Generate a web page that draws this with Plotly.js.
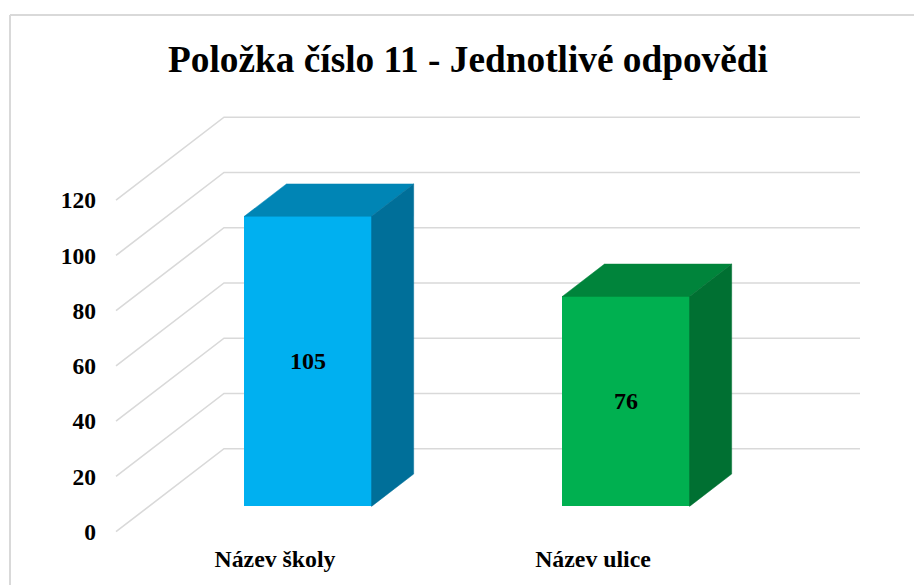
<!DOCTYPE html>
<html>
<head>
<meta charset="utf-8">
<script src="https://cdn.plot.ly/plotly-3.0.1.min.js"></script>
<style>html,body{margin:0;padding:0;background:#fff}#c{width:914px;height:585px}</style>
</head>
<body>
<div id="c"></div>
<script>
var categories = ["Název školy", "Název ulice"];
var values = [105, 76];
var yTicks = [0, 20, 40, 60, 80, 100, 120];
var frontColors = ["#00B0F0", "#00B050"];
var topColors = ["#0085B5", "#00843B"];
var sideColors = ["#006F99", "#007032"];
var gridColor = "#D9D9D9";
var chartTitle = "Položka číslo 11 - Jednotlivé odpovědi";

var W = 914, H = 585;
// pixel calibration of the category/value scales
var pxPerCat = 318, x0px = 275, pxPerVal = 2.7625, y0px = 531.7;
var xRange = [(0 - x0px) / pxPerCat, (W - x0px) / pxPerCat];
var yRange = [(y0px - H) / pxPerVal, (y0px - 0) / pxPerVal];
// oblique projection of the floor depth
var depthX = 108 / pxPerCat, depthY = 83 / pxPerVal;
var barWidth = 0.4, nearD = 0.305, farD = 0.695;
var wallRight = 1.5;

function gridX() {
  var xs = [];
  yTicks.forEach(function () { xs.push(-0.5, -0.5 + depthX, wallRight + depthX, null); });
  return xs;
}
function gridY() {
  var ys = [];
  yTicks.forEach(function (v) { ys.push(v, v + depthY, v + depthY, null); });
  return ys;
}

var traces = [{
  type: "scatter", mode: "lines", x: gridX(), y: gridY(), xaxis: "x", yaxis: "y",
  line: { color: gridColor, width: 1.6 }, hoverinfo: "skip", showlegend: false
}, {
  type: "bar", x: [0, 1].map(function (i) { return i + nearD * depthX; }), y: values,
  base: values.map(function () { return nearD * depthY; }),
  width: barWidth, xaxis: "x2", yaxis: "y2",
  marker: { color: frontColors, line: { width: 0 } },
  text: values.map(String), textposition: "inside", insidetextanchor: "middle",
  textangle: 0, constraintext: "none",
  textfont: { family: "Liberation Serif", size: 24, color: "#000000", weight: 700 },
  hoverinfo: "skip", showlegend: false
}];

values.forEach(function (v, i) {
  var l = i - barWidth / 2, r = i + barWidth / 2;
  var xn = nearD * depthX, xf = farD * depthX, yn = nearD * depthY, yf = farD * depthY;
  // top face
  traces.push({
    type: "scatter", mode: "lines", fill: "toself", xaxis: "x2", yaxis: "y2",
    x: [l + xn, r + xn, r + xf, l + xf, l + xn],
    y: [v + yn, v + yn, v + yf, v + yf, v + yn],
    fillcolor: topColors[i], line: { color: topColors[i], width: 0.5 },
    hoverinfo: "skip", showlegend: false
  });
  // side face
  traces.push({
    type: "scatter", mode: "lines", fill: "toself", xaxis: "x2", yaxis: "y2",
    x: [r + xn, r + xf, r + xf, r + xn, r + xn],
    y: [yn, yf, v + yf, v + yn, yn],
    fillcolor: sideColors[i], line: { color: sideColors[i], width: 0.5 },
    hoverinfo: "skip", showlegend: false
  });
});

var tickFont = { family: "Liberation Serif", size: 23.5, color: "#000000", weight: 700 };

var layout = {
  width: W, height: H,
  margin: { l: 0, r: 0, t: 0, b: 0, pad: 0 },
  paper_bgcolor: "#FFFFFF", plot_bgcolor: "rgba(0,0,0,0)",
  showlegend: false,
  bargap: 0,
  title: {
    text: "<b>" + chartTitle + "</b>",
    font: { family: "Liberation Serif", size: 37.3, color: "#000000" },
    x: 468 / W, xanchor: "center", y: 1 - 58.5 / H, yanchor: "middle"
  },
  xaxis: {
    domain: [0, 1], range: xRange, anchor: "free", position: 1 - 542 / H,
    tickmode: "array", tickvals: [0, 1], ticktext: categories,
    showgrid: false, zeroline: false, showline: false, ticks: "",
    tickfont: { family: "Liberation Serif", size: 23.8, color: "#000000", weight: 700 }
  },
  yaxis: {
    domain: [0, 1], range: yRange, anchor: "free", position: 96 / W,
    tickmode: "array", tickvals: yTicks, ticktext: yTicks.map(String),
    showgrid: false, zeroline: false, showline: false, ticks: "",
    tickfont: tickFont
  },
  xaxis2: { domain: [0, 1], range: xRange, overlaying: "x", anchor: "y2", visible: false },
  yaxis2: { domain: [0, 1], range: yRange, overlaying: "y", anchor: "x2", visible: false },
  shapes: [
    { type: "line", xref: "paper", yref: "paper", x0: 10 / W, x1: 10 / W, y0: 0, y1: 1 - 15 / H, line: { color: gridColor, width: 2 } },
    { type: "line", xref: "paper", yref: "paper", x0: 10 / W, x1: 1, y0: 1 - 15 / H, y1: 1 - 15 / H, line: { color: gridColor, width: 2 } }
  ]
};

Plotly.newPlot("c", traces, layout, { displayModeBar: false, staticPlot: true });
</script>
</body>
</html>
